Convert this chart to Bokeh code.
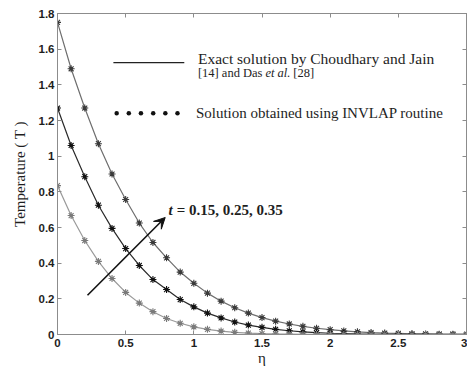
from bokeh.plotting import figure
from bokeh.models import Range1d, LinearAxis, Label, Arrow, VeeHead, FixedTicker
from bokeh.embed import file_html
from bokeh.resources import INLINE

# dimensionless coordinate eta, sampled every 0.1
eta = [round(0.1 * i, 1) for i in range(31)]

# temperature profiles for t = 0.35, 0.25, 0.15
temp_t035 = [1.75, 1.49, 1.27, 1.07, 0.90, 0.757, 0.625, 0.516, 0.43, 0.35,
             0.287, 0.232, 0.187, 0.15, 0.12, 0.095, 0.075, 0.059, 0.046, 0.035,
             0.027, 0.02, 0.015, 0.011, 0.008, 0.006, 0.004, 0.003, 0.002, 0.0015, 0.001]
temp_t025 = [1.27, 1.06, 0.885, 0.725, 0.595, 0.482, 0.387, 0.308, 0.252, 0.196,
             0.155, 0.12, 0.093, 0.07, 0.053, 0.04, 0.029, 0.021, 0.015, 0.01,
             0.007, 0.005, 0.003, 0.002, 0.0015, 0.001, 0.0008, 0.0005, 0.0004, 0.0003, 0.0002]
temp_t015 = [0.835, 0.667, 0.527, 0.41, 0.314, 0.236, 0.176, 0.128, 0.09, 0.063,
             0.043, 0.029, 0.019, 0.012, 0.008, 0.005, 0.003, 0.002, 0.001, 0.0007,
             0.0005, 0.0003, 0.0002, 0.0001, 0.0001, 0.0, 0.0, 0.0, 0.0, 0.0, 0.0]

x_ticks = [0, 0.5, 1, 1.5, 2, 2.5, 3]
x_tick_labels = ["0", "0.5", "1", "1.5", "2", "2.5", "3"]
y_ticks = [0, 0.2, 0.4, 0.6, 0.8, 1.0, 1.2, 1.4, 1.6, 1.8]
y_tick_labels = ["0", "0.2", "0.4", "0.6", "0.8", "1", "1.2", "1.4", "1.6", "1.8"]

series = [
    (temp_t035, "#6e6e6e", "#3a3a3a"),
    (temp_t025, "#2a2a2a", "#111111"),
    (temp_t015, "#9a9a9a", "#7a7a7a"),
]

AXIS = "#8c8c8c"
TXT = "#1e1e1e"
SERIF = "Liberation Serif"

p = figure(width=467, height=369, output_backend="svg", toolbar_location=None,
           x_range=Range1d(0, 3), y_range=Range1d(0, 1.8),
           min_border_left=57, min_border_right=1, min_border_top=13, min_border_bottom=35,
           background_fill_color="white", border_fill_color="white")
p.grid.visible = False
p.outline_line_color = AXIS
p.outline_line_width = 1

for ax, ticks, labels in ((p.xaxis[0], x_ticks, x_tick_labels), (p.yaxis[0], y_ticks, y_tick_labels)):
    ax.ticker = FixedTicker(ticks=ticks)
    ax.major_label_overrides = {t: l for t, l in zip(ticks, labels)}
    ax.major_tick_in = 4
    ax.major_tick_out = 0
    ax.minor_tick_line_color = None
    ax.axis_line_color = AXIS
    ax.major_tick_line_color = AXIS
    ax.major_label_text_font = "Liberation Sans"
    ax.major_label_text_font_style = "bold"
    ax.major_label_text_font_size = "11.5px"
    ax.major_label_text_color = TXT
    ax.major_label_standoff = 3

p.xaxis.major_label_standoff = 4
p.xaxis.axis_label = "η"
p.xaxis.axis_label_text_font = SERIF
p.xaxis.axis_label_text_font_style = "normal"
p.xaxis.axis_label_text_font_size = "15px"
p.xaxis.axis_label_text_color = TXT
p.xaxis.axis_label_standoff = 0

p.yaxis.axis_label = "Temperature ( T )"
p.yaxis.axis_label_text_font = SERIF
p.yaxis.axis_label_text_font_style = "normal"
p.yaxis.axis_label_text_font_size = "15px"
p.yaxis.axis_label_text_color = TXT
p.yaxis.axis_label_standoff = 8

# mirrored inward ticks on top and right, without labels
for side, ticks in (("above", x_ticks), ("right", y_ticks)):
    ax = LinearAxis(ticker=FixedTicker(ticks=ticks), major_tick_in=4, major_tick_out=0,
                    minor_tick_line_color=None, axis_line_color=AXIS,
                    major_tick_line_color=AXIS,
                    major_label_overrides={t: "" for t in ticks},
                    major_label_text_font_size="2px", major_label_standoff=0)
    p.add_layout(ax, side)

for temps, line_col, mark_col in series:
    p.line(eta, temps, line_color=line_col, line_width=1.2)
    p.scatter(eta, temps, marker="asterisk", size=7, line_color=mark_col, line_width=1.1)
    p.scatter(eta, temps, marker="circle", size=3.5, fill_color=mark_col, line_color=None)

# legend: solid line sample and row of dots
leg_line_x = [0.41, 0.93]
leg_line_y = [1.525, 1.525]
p.line(leg_line_x, leg_line_y, line_color="#222222", line_width=1.3)
leg_dot_x = [0.434, 0.523, 0.612, 0.702, 0.791, 0.88]
p.scatter(leg_dot_x, [1.24] * 6, marker="circle", size=4.5, fill_color="#111111", line_color=None)

def label(x, y, text, style="normal", size="15px", **kw):
    p.add_layout(Label(x=x, y=y, text=text, text_font=SERIF, text_font_style=style,
                       text_font_size=size, text_color=TXT, text_baseline="middle", **kw))

label(1.03, 1.545, "Exact solution by Choudhary and Jain", size="15.5px")
label(1.03, 1.468, "[14] and Das", size="12.5px")
label(1.525, 1.468, "et al.", style="italic", size="12.5px")
label(1.73, 1.468, "[28]", size="12.5px")
label(1.015, 1.24, "Solution obtained using INVLAP routine")

# arrow indicating increasing time
p.add_layout(Arrow(x_start=0.22, y_start=0.22, x_end=0.79, y_end=0.656,
                   line_color="#111111", line_width=1.6,
                   end=VeeHead(size=11, fill_color="#111111", line_color="#111111")))
label(0.815, 0.70, "t", style="bold italic")
label(0.875, 0.70, "= 0.15, 0.25, 0.35", style="bold")

open("out.html", "w").write(file_html(p, INLINE))
